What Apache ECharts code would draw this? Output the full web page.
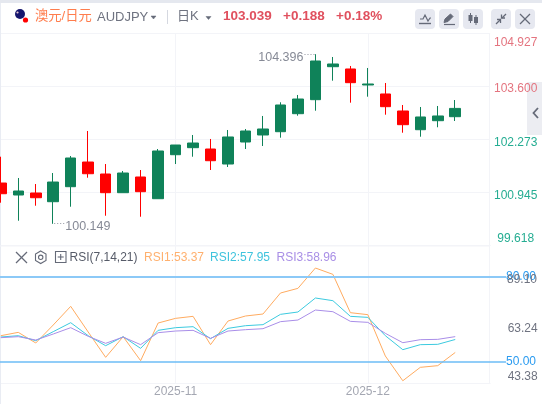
<!DOCTYPE html>
<html><head><meta charset="utf-8">
<style>html,body{margin:0;padding:0;background:#fff}#c{width:542px;height:404px}</style>
<script src="https://cdn.jsdelivr.net/npm/echarts@6/dist/echarts.min.js"></script>
</head><body><div id="c"></div>
<script>
const categories = ['','','','','','','','','','','2025-11','','','','','','','','','','','2025-12','','','','','','',''];
// [open, close, low, high]
const candles = [
[101.170,100.902,100.677,101.829],[100.870,100.970,100.226,101.296],[100.920,100.802,100.602,101.145],
[100.702,101.195,100.149,101.421],[101.078,101.797,100.577,101.847],[101.696,101.403,101.303,102.473],
[101.396,100.928,100.351,101.646],[100.928,101.421,100.928,101.471],[101.321,100.953,100.326,101.496],
[100.777,101.972,100.777,102.022],[101.879,102.122,101.646,102.122],[102.055,102.172,101.829,102.373],
[102.022,101.729,101.496,102.273],[101.646,102.323,101.571,102.498],[102.197,102.473,102.022,102.523],
[102.373,102.523,102.097,102.849],[102.455,103.124,102.305,103.192],[102.906,103.274,102.856,103.375],
[103.257,104.226,102.981,104.396],[104.083,104.151,103.733,104.326],[104.026,103.683,103.182,104.101],
[103.625,103.650,103.332,104.051],[103.400,103.082,102.881,103.675],[102.974,102.631,102.430,103.124],
[102.505,102.824,102.330,103.074],[102.731,102.849,102.566,103.099],[102.831,103.039,102.723,103.249]];
const rsi1 = [59.29,60.47,56.71,63.06,69.65,60.59,51.65,58.94,50.47,63.76,65.41,66.12,56.12,64.47,66.24,66.94,74.35,76.00,83.18,80.94,67.41,66.71,52.12,43.38,48.12,48.71,53.37];
const rsi2 = [58.82,59.29,57.53,60.71,63.88,59.29,55.76,58.94,54.82,61.18,62.12,62.47,58.24,61.88,62.82,63.18,66.82,67.65,72.59,71.65,66.12,65.76,59.29,54.35,56.12,56.24,57.95];
const rsi3 = [58.59,58.94,57.76,59.88,62.12,59.06,56.59,58.82,56.12,60.35,60.94,61.18,58.35,60.94,61.41,61.76,64.24,64.82,68.35,67.76,64.35,64.00,60.12,56.82,57.88,58.00,58.96];
const priceTicks = [99.618,100.945,102.273,103.600,104.927];
const rsiTicks = [43.38,63.24];
const rsiLevels = [50,80];

const GREEN='#0f8259', RED='#ff0000', LINE='#f3f4f8', GRAY='#6f7380', ICON='#656a78', BTN='#e6e8f0';
const FONT='"Liberation Sans","Noto Sans CJK SC",sans-serif';
const monthTick=(i,v)=>v!=='';
const txt=(x,y,s,fill,size,extra)=>({type:'text',x,y,z:20,silent:true,style:Object.assign({text:s,fill,font:(extra&&extra.weight||'normal')+' '+(size||12)+'px '+FONT,textVerticalAlign:'middle',textAlign:'left'},extra&&extra.st)});
const poly=(pts,stroke,lw,closed)=>({type:closed?'polygon':'polyline',z:21,silent:true,shape:{points:pts},style:{stroke,lineWidth:lw||1.4,fill:closed===2?stroke:'none'}});
const rr=(x,y,w,h,r,fill,z)=>({type:'rect',z:z==null?1:z,silent:true,shape:{x,y,width:w,height:h,r},style:{fill}});
const ln=(x1,y1,x2,y2,stroke,lw)=>({type:'line',z:1,silent:true,shape:{x1,y1,x2,y2},style:{stroke,lineWidth:lw||1}});
const tri=(x,y)=>poly([[x,y],[x+5,y],[x+2.5,y+3]],ICON,0.5,2);

const graphic=[
 rr(0,0,542,3,0,'#e5e8ef',1), rr(0,3,1,401,0,'#e9ecf3',1),
 rr(527,82,15,53,0,'#ecedf2',0),
 ln(489.5,33,489.5,383,LINE), ln(0,246,489,246,LINE),
 {type:'circle',z:21,silent:true,shape:{cx:20,cy:14,r:5},style:{fill:'#16166e'}},
 {type:'circle',z:22,silent:true,shape:{cx:17.5,cy:12.5,r:1.1},style:{fill:'#e8c8d0'}},
 {type:'circle',z:22,silent:true,shape:{cx:25.5,cy:20,r:2.6},style:{fill:'#ff0000'}},
 txt(35,16.5,'澳元/日元','#ff7d4d',13.3),
 txt(97,17.5,'AUDJPY',GRAY,13),
 tri(151,16),
 ln(167.5,10,167.5,24,'#d5d8e0'),
 txt(177,16,'日K',GRAY,13),
 tri(206,16.5),
 txt(223,16,'103.039','#e0505e',13.5,{weight:'bold'}),
 txt(283,16,'+0.188','#e0505e',13.5,{weight:'bold'}),
 txt(336,16,'+0.18%','#e0505e',13.5,{weight:'bold'}),
 rr(415,9,20,20,4,BTN), rr(439,9,20,20,4,BTN), rr(463,9,20,20,4,BTN), rr(491,9,20,20,4,BTN), rr(515,9,20,20,4,BTN),
 poly([[420,19],[423,19],[425,15],[428,21],[430,18],[431,18]],ICON,1.2),
 poly([[419,23.5],[431,23.5]],ICON,1.4),
 poly([[444,22.5],[445,19],[450.5,14],[453,16.5],[448,21.5]],ICON,1,2),
 poly([[444,24.5],[455,24.5]],ICON,1.2),
 poly([[470.5,13],[470.5,23]],ICON,1), rr(468.5,15,4,6,0,ICON,21),
 poly([[476,15],[476,25]],ICON,1), rr(474,17,4,6,0,ICON,21),
 poly([[496,24],[500,20]],ICON,1.3), poly([[497,19.5],[500.5,19.5],[500.5,23]],ICON,1.3),
 poly([[506,14],[502,18]],ICON,1.3), poly([[501.5,14.5],[501.5,18],[505,18]],ICON,1.3),
 poly([[520,14],[530,24]],ICON,1.2), poly([[530,14],[520,24]],ICON,1.2),
 poly([[538,108],[533.5,113],[538,118]],ICON,1.8),
 poly([[16,252],[27,263]],ICON,1.2), poly([[27,252],[16,263]],ICON,1.2),
 poly([[40.7,251],[46,254],[46,260.5],[40.7,263.5],[35.5,260.5],[35.5,254]],ICON,1.1,1),
 {type:'circle',z:21,silent:true,shape:{cx:40.7,cy:257.3,r:2.2},style:{stroke:ICON,fill:'none',lineWidth:1.1}},
 poly([[55.5,251.5],[66,251.5],[66,262.5],[55.5,262.5]],ICON,1.1,1),
 poly([[60.7,254],[60.7,260]],ICON,1.1), poly([[57.7,257],[63.7,257]],ICON,1.1),
 txt(69.5,257.7,'RSI(7,14,21)','#565b68',12),
 txt(144,257.7,'RSI1:53.37','#ffb06e',12),
 txt(210,257.7,'RSI2:57.95','#3fc3dd',12),
 txt(276.5,257.7,'RSI3:58.96','#a98fe6',12),
 txt(537,280,'89.10',GRAY,12,{st:{textAlign:'right'}}),
];

const option={
 animation:false,backgroundColor:'#fff',textStyle:{fontFamily:FONT},graphic,
 grid:[
  {left:0.8,width:489.4,top:33,height:212},
  {left:0.8,width:489.4,top:246,height:137}
 ],
 xAxis:[
  {type:'category',gridIndex:0,data:categories,boundaryGap:false,axisLine:{show:true,lineStyle:{color:LINE}},axisTick:{show:false},axisLabel:{show:false},
   splitLine:{show:true,interval:monthTick,lineStyle:{color:LINE}}},
  {type:'category',gridIndex:1,data:categories,boundaryGap:false,axisLine:{show:true,lineStyle:{color:LINE}},axisTick:{show:false},
   axisLabel:{show:true,interval:monthTick,color:'#a4a7b2',fontSize:12,margin:3,hideOverlap:false},
   splitLine:{show:true,interval:monthTick,lineStyle:{color:LINE}}}
 ],
 yAxis:[
  {type:'value',gridIndex:0,position:'right',min:99.618,max:104.927,scale:true,
   axisLine:{show:false},axisTick:{show:false,customValues:priceTicks},
   splitLine:{show:true,lineStyle:{color:LINE}},
   axisLabel:{show:true,customValues:priceTicks,inside:false,margin:25.5,align:'center',fontSize:12,
    formatter:(v)=>{const s=v.toFixed(3);const c=v>=103?'r':'g';
      const k=v===104.927?'a':v===99.618?'b':'m';return '{'+c+k+'|'+s+'}';},
    rich:{
     ra:{color:'#e4747f',fontSize:12,padding:[20,0,0,0]},
     rm:{color:'#e4747f',fontSize:12,padding:[6,0,0,0]},
     gm:{color:'#25ad92',fontSize:12,padding:[8,0,0,0]},
     gb:{color:'#25ad92',fontSize:12,padding:[0,0,13,0]}
    }}},
  {type:'value',gridIndex:1,position:'right',min:42.59,max:90.95,scale:true,
   axisLine:{show:false},axisTick:{show:false,customValues:rsiTicks},splitLine:{show:false},
   axisLabel:{show:true,customValues:rsiTicks,margin:47.5,align:'right',fontSize:12,
    formatter:(v)=>v<50?'{l|'+v.toFixed(2)+'}':'{h|'+v.toFixed(2)+'}',
    rich:{l:{color:GRAY,fontSize:12,padding:[0,0,9,0]},h:{color:GRAY,fontSize:12,padding:[9,0,0,0]}}}}
 ],
 series:[
  {type:'candlestick',xAxisIndex:0,yAxisIndex:0,data:candles,barWidth:11,clip:true,
   itemStyle:{color:GREEN,color0:RED,borderColor:GREEN,borderColor0:RED,borderWidth:1},
   markPoint:{silent:true,symbol:'circle',symbolSize:0,animation:false,
    data:[
     {coord:[18,104.396],label:{position:'left',distance:0,formatter:'{t|104.396}{d|····}'}},
     {coord:[3,100.149],label:{position:'right',distance:0,formatter:'{d|····}{t|100.149}'}}
    ],
    label:{show:true,rich:{t:{color:'#868a96',fontSize:12.5,padding:[6,0,0,0]},d:{color:'#868a96',fontSize:9}}}}},
  {type:'line',name:'RSI1',xAxisIndex:1,yAxisIndex:1,data:rsi1,showSymbol:false,smooth:false,lineStyle:{color:'#ffab60',width:1},
   markLine:{silent:true,symbol:'none',animation:false,
    lineStyle:{type:'solid'},
    data:rsiLevels.map(v=>[
      {yAxis:v,x:0,lineStyle:{type:'solid',color:v===80?'#8cc9f7':'#6dbcf6',width:v===80?2:1.5}},
      {yAxis:v,x:506,label:{show:true,position:'end',distance:0,formatter:v.toFixed(2),color:'#2a9bf0',fontSize:12}}
    ])}},
  {type:'line',name:'RSI2',xAxisIndex:1,yAxisIndex:1,data:rsi2,showSymbol:false,smooth:false,lineStyle:{color:'#3ccadf',width:1}},
  {type:'line',name:'RSI3',xAxisIndex:1,yAxisIndex:1,data:rsi3,showSymbol:false,smooth:false,lineStyle:{color:'#a98ee8',width:1}}
 ]
};
echarts.init(document.getElementById('c'),null,{renderer:'canvas'}).setOption(option);
</script></body></html>
